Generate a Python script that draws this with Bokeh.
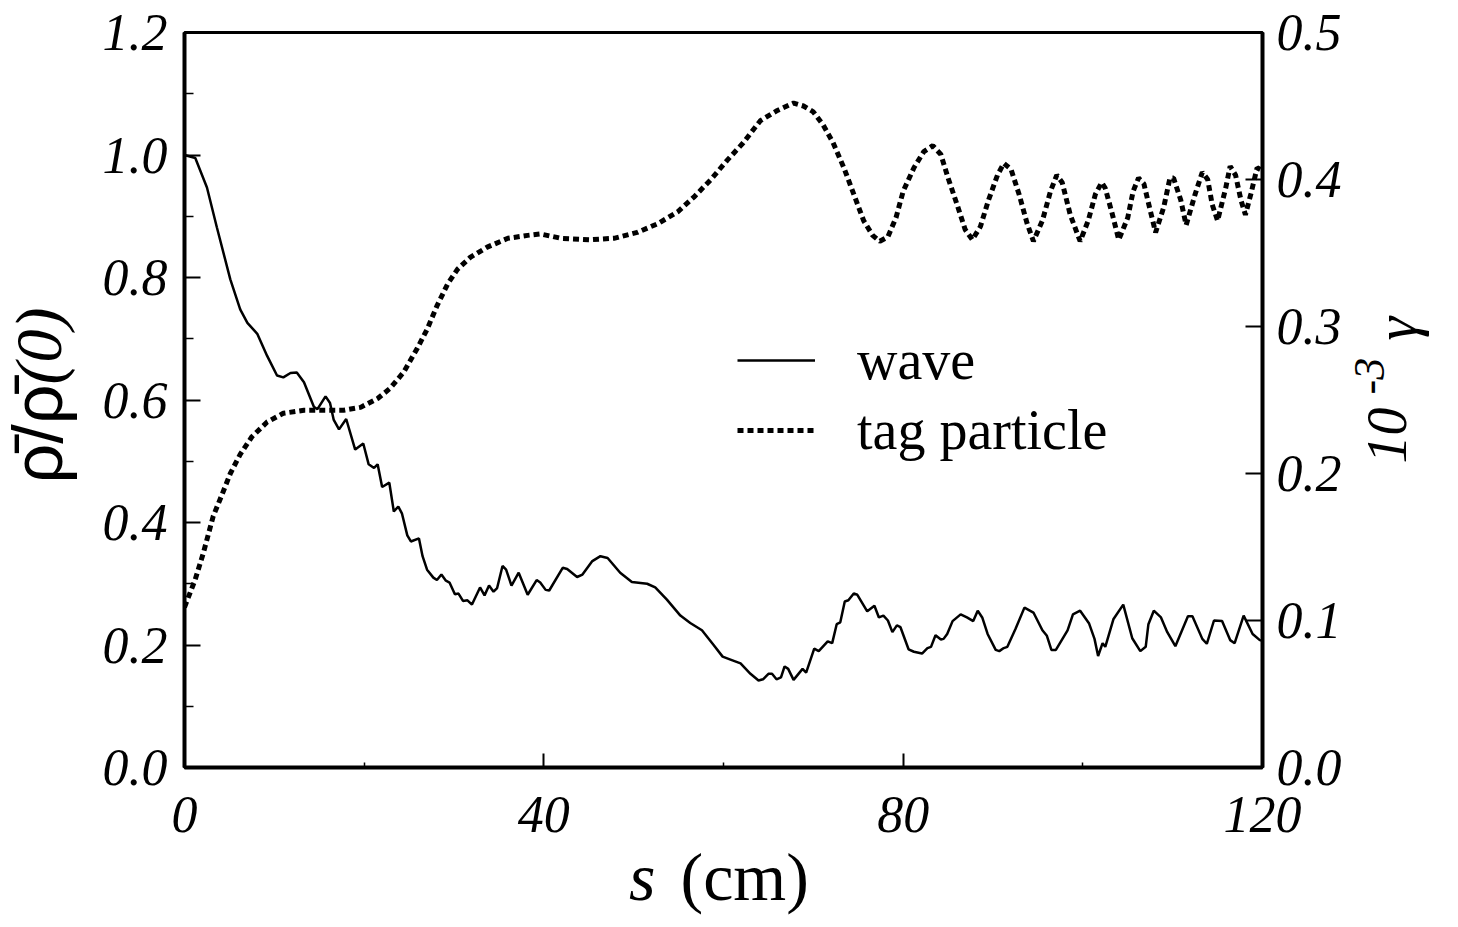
from bokeh.plotting import figure
from bokeh.layouts import column
from bokeh.models import (Range1d, LinearAxis, FixedTicker, PrintfTickFormatter,
                          Label, Legend, LegendItem)
from bokeh.embed import file_html
from bokeh.resources import INLINE
import math

# ---------------- data ----------------
wave_s = [0, 1.2, 2.5, 3.6, 5.1, 6.2, 7.0, 8.1, 9.2, 10.3, 11.0, 11.8, 12.5, 13.3, 14.4,
          14.8, 15.7, 16.2, 16.6, 17.2, 18.0, 19.0, 19.9, 20.5, 21.1, 21.5, 22.0, 22.8,
          23.3, 23.8, 24.2, 24.8, 25.2, 26.1, 26.5, 27.0, 27.7, 28.1, 28.6, 29.1, 29.5,
          30.1, 30.5, 31.0, 31.5, 32.0, 32.9, 33.4, 33.9, 34.4, 34.8, 35.4, 35.8, 36.4,
          37.2, 38.2, 39.2, 39.6, 40.2, 40.6, 42.1, 42.6, 43.7, 44.3, 45.4, 46.3, 47.1,
          48.5, 49.8, 51.5, 52.4, 53.7, 55.2, 56.3, 57.6, 58.9, 59.9, 61.0, 61.9, 63.0,
          63.9, 64.4, 65.0, 65.4, 65.9, 66.4, 66.8, 67.2, 67.8, 68.8, 69.2, 70.1, 70.6,
          71.6, 72.1, 72.6, 73.0, 73.5, 73.9, 74.5, 74.9, 76.0, 76.8, 77.3, 77.8, 78.3,
          78.8, 79.3, 79.7, 80.6, 81.2, 82.1, 82.7, 83.1, 83.6, 84.2, 84.5, 84.9, 85.5,
          86.4, 87.1, 87.8, 88.3, 88.8, 89.4, 90.3, 90.7, 91.2, 91.6, 92.5, 93.5, 94.5,
          95.5, 96.0, 96.5, 97.0, 98.3, 98.9, 99.7, 100.7, 101.3, 101.7, 102.2, 102.5,
          103.4, 104.5, 105.5, 106.4, 107.0, 107.3, 107.9, 108.7, 109.4, 110.3, 111.7,
          112.2, 113.3, 113.8, 114.6, 115.5, 116.4, 116.9, 117.9, 118.9, 119.7, 120.0]
wave_v = [1.0, 0.995, 0.947, 0.882, 0.797, 0.748, 0.726, 0.708, 0.672, 0.640, 0.637, 0.644,
          0.645, 0.629, 0.589, 0.585, 0.606, 0.595, 0.568, 0.552, 0.569, 0.519, 0.529, 0.495,
          0.489, 0.495, 0.458, 0.465, 0.418, 0.426, 0.415, 0.379, 0.369, 0.374, 0.345, 0.323,
          0.310, 0.306, 0.315, 0.305, 0.302, 0.283, 0.284, 0.272, 0.273, 0.266, 0.294, 0.281,
          0.297, 0.287, 0.293, 0.329, 0.323, 0.297, 0.318, 0.282, 0.306, 0.302, 0.290, 0.289,
          0.326, 0.324, 0.311, 0.315, 0.337, 0.345, 0.342, 0.318, 0.303, 0.300, 0.294, 0.274,
          0.248, 0.236, 0.224, 0.200, 0.181, 0.175, 0.170, 0.153, 0.142, 0.144, 0.153, 0.153,
          0.144, 0.147, 0.165, 0.161, 0.143, 0.161, 0.155, 0.194, 0.190, 0.206, 0.203, 0.234,
          0.237, 0.271, 0.273, 0.284, 0.282, 0.255, 0.264, 0.245, 0.248, 0.240, 0.221, 0.232,
          0.229, 0.193, 0.189, 0.186, 0.195, 0.197, 0.216, 0.209, 0.210, 0.218, 0.239, 0.250,
          0.245, 0.239, 0.256, 0.245, 0.218, 0.192, 0.190, 0.195, 0.197, 0.226, 0.261, 0.253,
          0.224, 0.215, 0.192, 0.192, 0.224, 0.250, 0.256, 0.235, 0.210, 0.182, 0.203, 0.197,
          0.242, 0.266, 0.211, 0.190, 0.197, 0.234, 0.256, 0.245, 0.221, 0.198, 0.247, 0.247,
          0.210, 0.202, 0.240, 0.239, 0.208, 0.203, 0.248, 0.218, 0.208, 0.207]

tag_s = [0, 1.2, 2.1, 3.2, 4.2, 5.1, 6.2, 7.5, 9.2, 11.0, 13.3, 15.5, 17.7, 19.6, 21.5,
         22.9, 24.4, 25.9, 27.0, 28.1, 29.3, 30.4, 31.8, 33.7, 36.0, 38.2, 39.6, 41.9,
         45.2, 47.8, 50.4, 52.7, 54.9, 56.7, 58.6, 60.4, 62.2, 64.1, 66.0, 67.8, 68.9,
         70.0, 71.1, 72.2, 73.4, 74.5, 75.6, 76.6, 77.4, 78.3, 79.2, 80.0, 81.2, 82.3,
         83.3, 84.2, 85.0, 86.0, 86.9, 87.7, 88.6, 89.5, 90.5, 91.2, 92.0, 92.9, 93.8,
         94.5, 95.5, 96.4, 97.1, 97.7, 98.6, 99.7, 100.6, 101.4, 102.1, 102.5, 103.3,
         104.0, 105.0, 105.6, 106.2, 106.8, 107.5, 108.1, 109.0, 109.7, 110.1, 110.9,
         111.5, 112.5, 113.3, 113.9, 114.4, 115.0, 115.9, 116.4, 117.0, 117.6, 118.1,
         118.7, 119.4, 120.0]
tag_g = [0.109, 0.128, 0.146, 0.171, 0.186, 0.200, 0.213, 0.225, 0.235, 0.241, 0.243, 0.243,
         0.243, 0.245, 0.251, 0.258, 0.269, 0.285, 0.298, 0.314, 0.329, 0.339, 0.347, 0.354,
         0.360, 0.362, 0.363, 0.360, 0.359, 0.360, 0.364, 0.370, 0.378, 0.388, 0.400, 0.413,
         0.425, 0.440, 0.447, 0.452, 0.450, 0.446, 0.437, 0.425, 0.408, 0.390, 0.372, 0.362,
         0.358, 0.361, 0.374, 0.392, 0.408, 0.419, 0.423, 0.417, 0.401, 0.383, 0.366, 0.359,
         0.368, 0.386, 0.403, 0.411, 0.407, 0.390, 0.370, 0.358, 0.372, 0.392, 0.403, 0.398,
         0.376, 0.358, 0.372, 0.390, 0.398, 0.394, 0.376, 0.359, 0.374, 0.392, 0.401, 0.397,
         0.379, 0.364, 0.381, 0.401, 0.401, 0.386, 0.369, 0.390, 0.405, 0.400, 0.383, 0.372,
         0.394, 0.409, 0.403, 0.386, 0.376, 0.390, 0.408, 0.406]

x_ticks = [0, 40, 80, 120]
x_minor = [20, 60, 100]
left_ticks = [0.0, 0.2, 0.4, 0.6, 0.8, 1.0, 1.2]
left_minor = [0.1, 0.3, 0.5, 0.7, 0.9, 1.1]
right_ticks = [0.0, 0.1, 0.2, 0.3, 0.4, 0.5]

SERIF = "Liberation Serif"
TICK_FS = "52px"
W, H = 1440, 920

p = figure(width=W, height=H, output_backend="svg", toolbar_location=None,
           x_range=Range1d(0, 120), y_range=Range1d(0, 1.2),
           min_border_left=184, min_border_right=178, min_border_top=32,
           min_border_bottom=H - 767, background_fill_color="white",
           border_fill_color="white")
p.grid.visible = False
p.outline_line_color = "black"
p.outline_line_width = 3
p.extra_y_ranges = {"g": Range1d(0, 0.5)}


def style_axis(ax, major_in, minor_in):
    ax.axis_line_width = 4
    ax.axis_line_color = "black"
    ax.major_tick_in = major_in
    ax.major_tick_out = 0
    ax.minor_tick_in = minor_in
    ax.minor_tick_out = 0
    ax.major_tick_line_width = 2
    ax.minor_tick_line_width = 1.5
    ax.major_label_text_font = SERIF
    ax.major_label_text_font_style = "italic"
    ax.major_label_text_font_size = TICK_FS
    ax.major_label_text_color = "black"


xa = p.xaxis[0]
xa.ticker = FixedTicker(ticks=x_ticks, minor_ticks=x_minor)
style_axis(xa, 14, 5)
xa.major_label_standoff = 29

ya = p.yaxis[0]
ya.ticker = FixedTicker(ticks=left_ticks, minor_ticks=left_minor)
ya.formatter = PrintfTickFormatter(format="%.1f")
style_axis(ya, 16, 9)
ya.major_label_standoff = 17

ra = LinearAxis(y_range_name="g", ticker=FixedTicker(ticks=right_ticks, minor_ticks=[]),
                formatter=PrintfTickFormatter(format="%.1f"))
style_axis(ra, 17, 0)
ra.major_label_standoff = 14
p.add_layout(ra, "right")

r_wave = p.line(wave_s, wave_v, line_color="black", line_width=2.5)
r_tag = p.line(tag_s, tag_g, y_range_name="g", line_color="black", line_width=5,
               line_dash="6 4")

legend = Legend(items=[LegendItem(label="wave", renderers=[r_wave]),
                       LegendItem(label="tag particle", renderers=[r_tag])],
                location=(553, 305), label_text_font=SERIF, label_text_font_size="56px",
                label_text_color="black",
                glyph_width=78, glyph_height=30, label_standoff=42, spacing=6,
                padding=0, margin=0, border_line_alpha=0, background_fill_alpha=0)
p.add_layout(legend)

# ---------- transparent overlay carrying the axis titles (page-pixel coordinates) ----------
ov = figure(width=W, height=H, output_backend="svg", toolbar_location=None,
            x_range=Range1d(0, W), y_range=Range1d(H, 0),
            x_axis_type=None, y_axis_type=None, min_border=0,
            background_fill_alpha=0, border_fill_alpha=0, outline_line_color=None,
            styles={"margin-top": f"-{H}px"})
for fig in (p, ov):
    try:
        fig.frame_align = False
    except Exception:
        pass

# empirical shift of Bokeh's alphabetic baseline (fraction of the font size)
BL = 0.335


def add_text(x, y, text, size, style="normal", font=SERIF, align="left", rotated=False):
    if rotated:
        x = x - BL * size
    else:
        y = y - BL * size
    ov.add_layout(Label(x=x, y=y, text=text, text_font=font, text_font_size=f"{size}px",
                        text_font_style=style, text_align=align,
                        text_baseline="alphabetic", text_color="black",
                        angle=math.pi / 2 if rotated else 0.0))


# x-axis title: "s (cm)"
add_text(655, 899, "s", 68, style="italic", align="right")
add_text(680, 899, "(cm)", 68)
# left title: rho-bar / rho-bar (0)
add_text(61, 483, "\u03c1\u0304/\u03c1\u0304", 70, font="Liberation Sans", rotated=True)
add_text(60, 384, "(0)", 66, style="italic", rotated=True)
# right title: 10^-3 gamma
add_text(1405, 463, "10", 56, style="italic", rotated=True)
add_text(1384, 394, "-3", 44, style="italic", rotated=True)
add_text(1416, 340, "\u03b3", 60, style="italic", rotated=True)

root = column(p, ov, spacing=0)
open("out.html", "w").write(file_html(root, INLINE))
